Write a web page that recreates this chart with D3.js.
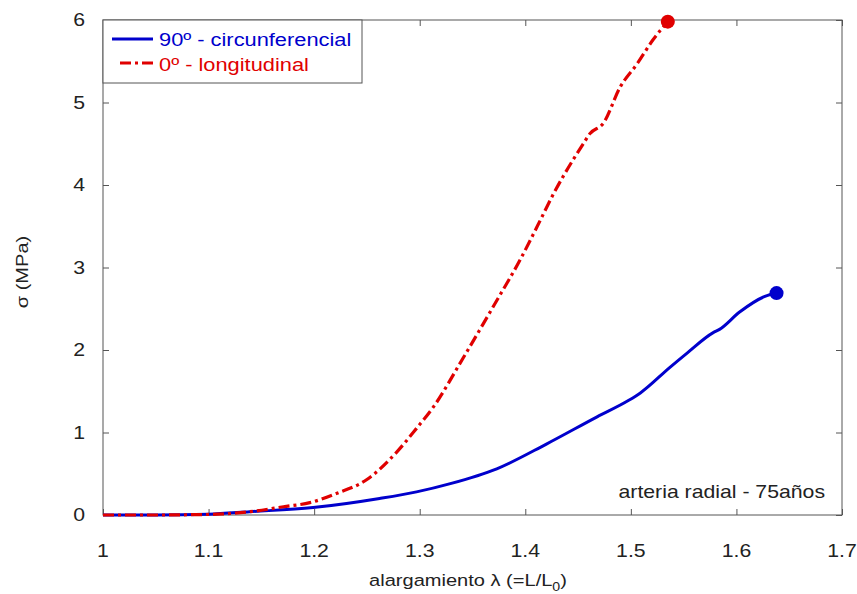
<!DOCTYPE html>
<html>
<head>
<meta charset="utf-8">
<script src="https://cdn.jsdelivr.net/npm/d3@7"></script>
<style>
  body { margin: 0; background: #fff; }
  text { font-family: "Liberation Sans", Arial, sans-serif; }
</style>
</head>
<body>
<svg id="plot"></svg>
<script>
const width = 857;
const height = 594;

// plot box (pixels)
const boxLeft = 103, boxRight = 842, boxTop = 20, boxBottom = 515;

// data
const circLambda = [1.00, 1.05, 1.10, 1.139, 1.199, 1.262, 1.297, 1.329, 1.373, 1.42, 1.468, 1.498, 1.509, 1.537, 1.553, 1.578, 1.584, 1.603, 1.629, 1.638];
const circSigma  = [0.00, 0.00, 0.01, 0.04, 0.09, 0.20, 0.28, 0.38, 0.56, 0.86, 1.19, 1.39, 1.48, 1.79, 1.96, 2.21, 2.25, 2.46, 2.66, 2.69];

const longLambda = [1.00, 1.05, 1.08, 1.108, 1.139, 1.171, 1.196, 1.221, 1.25, 1.278, 1.297, 1.313, 1.341, 1.373, 1.395, 1.411, 1.427, 1.445, 1.455, 1.461, 1.474, 1.49, 1.506, 1.521, 1.535];
const longSigma  = [0.00, 0.00, 0.003, 0.01, 0.04, 0.10, 0.15, 0.26, 0.43, 0.76, 1.05, 1.31, 1.90, 2.60, 3.09, 3.49, 3.90, 4.30, 4.50, 4.62, 4.75, 5.19, 5.47, 5.76, 5.98];

const xTicks = [1, 1.1, 1.2, 1.3, 1.4, 1.5, 1.6, 1.7];
const yTicks = [0, 1, 2, 3, 4, 5, 6];

const blue = '#0000cc';
const red = '#e00000';
const axisColor = '#555';
const stretch = 1.18; // the picture's text is a bit wide

let svg = d3.select('svg#plot')
  .attr('width', width)
  .attr('height', height);

let sx = d3.scaleLinear().domain([1, 1.7]).range([boxLeft, boxRight]);
let sy = d3.scaleLinear().domain([0, 6]).range([boxBottom, boxTop]);

function wideText(g, x, y, str, anchor){
  return g.append('text')
    .attr('transform', `translate(${x},${y}) scale(${stretch},1)`)
    .attr('text-anchor', anchor || 'start')
    .text(str);
}

// box
svg.append('rect')
  .attr('x', boxLeft).attr('y', boxTop)
  .attr('width', boxRight-boxLeft).attr('height', boxBottom-boxTop)
  .attr('fill', 'none')
  .attr('stroke', axisColor)
  .attr('stroke-width', 1);

// axes with inward ticks on all sides
let xb = svg.append('g').attr('transform', `translate(0,${boxBottom})`)
  .call(d3.axisBottom(sx).tickValues(xTicks).tickSizeInner(-6).tickSizeOuter(0).tickFormat(''));
let xt = svg.append('g').attr('transform', `translate(0,${boxTop})`)
  .call(d3.axisTop(sx).tickValues(xTicks).tickSizeInner(-6).tickSizeOuter(0).tickFormat(''));
let yl = svg.append('g').attr('transform', `translate(${boxLeft},0)`)
  .call(d3.axisLeft(sy).tickValues(yTicks).tickSizeInner(-6).tickSizeOuter(0).tickFormat(''));
let yr = svg.append('g').attr('transform', `translate(${boxRight},0)`)
  .call(d3.axisRight(sy).tickValues(yTicks).tickSizeInner(-6).tickSizeOuter(0).tickFormat(''));
[xb, xt, yl, yr].forEach(g=>{
  g.select('.domain').remove();
  g.selectAll('line').attr('stroke', axisColor);
});

// tick labels
let labels = svg.append('g').attr('font-size', 18).attr('fill', '#222');
xTicks.forEach(d=>{
  wideText(labels, sx(d), 557, String(d), 'middle');
});
yTicks.forEach(d=>{
  wideText(labels, 85, sy(d)+6, String(d), 'end');
});

// axis titles
let xl = wideText(svg.append('g').attr('font-size', 17).attr('fill', '#222'), 468, 586, '', 'middle');
xl.append('tspan').text('alargamiento \u03bb (=L/L');
xl.append('tspan').attr('font-size', 12).attr('dy', 5).text('0');
xl.append('tspan').attr('dy', -5).text(')');

svg.append('text')
  .attr('transform', `translate(28,272) rotate(-90) scale(${stretch},1)`)
  .attr('text-anchor', 'middle')
  .attr('font-size', 17)
  .attr('fill', '#222')
  .text('\u03c3 (MPa)');

// curves
let line = d3.line()
  .x(d=>sx(d[0]))
  .y(d=>sy(d[1]))
  .curve(d3.curveMonotoneX);

let circData = circLambda.map((d,i)=>[d, circSigma[i]]);
let longData = longLambda.map((d,i)=>[d, longSigma[i]]);

svg.append('path')
  .datum(circData)
  .attr('d', line)
  .attr('fill', 'none')
  .attr('stroke', blue)
  .attr('stroke-width', 3)
  .attr('stroke-linejoin', 'round');

svg.append('path')
  .datum(longData)
  .attr('d', line)
  .attr('fill', 'none')
  .attr('stroke', red)
  .attr('stroke-width', 3.2)
  .attr('stroke-dasharray', '11,4,3,4');

// end markers
svg.append('circle')
  .attr('cx', sx(circData[circData.length-1][0]))
  .attr('cy', sy(circData[circData.length-1][1]))
  .attr('r', 7).attr('fill', blue);
svg.append('circle')
  .attr('cx', sx(longData[longData.length-1][0]))
  .attr('cy', sy(longData[longData.length-1][1]))
  .attr('r', 7).attr('fill', red);

// annotation
wideText(svg.append('g').attr('font-size', 18).attr('fill', '#222'), 825, 498, 'arteria radial - 75a\u00f1os', 'end');

// legend
let lg = svg.append('g');
lg.append('rect')
  .attr('x', boxLeft).attr('y', boxTop)
  .attr('width', 362-boxLeft).attr('height', 83-boxTop)
  .attr('fill', '#fff')
  .attr('stroke', axisColor);
lg.append('line')
  .attr('x1', 112).attr('x2', 153).attr('y1', 39).attr('y2', 39)
  .attr('stroke', blue).attr('stroke-width', 3);
lg.append('line')
  .attr('x1', 120).attr('x2', 153).attr('y1', 63).attr('y2', 63)
  .attr('stroke', red).attr('stroke-width', 3)
  .attr('stroke-dasharray', '11,4,3,4');
wideText(lg.append('g').attr('font-size', 18.5).attr('fill', blue), 159, 46, '90\u00ba - circunferencial');
wideText(lg.append('g').attr('font-size', 18.5).attr('fill', red), 159, 71, '0\u00ba - longitudinal');
</script>
</body>
</html>
